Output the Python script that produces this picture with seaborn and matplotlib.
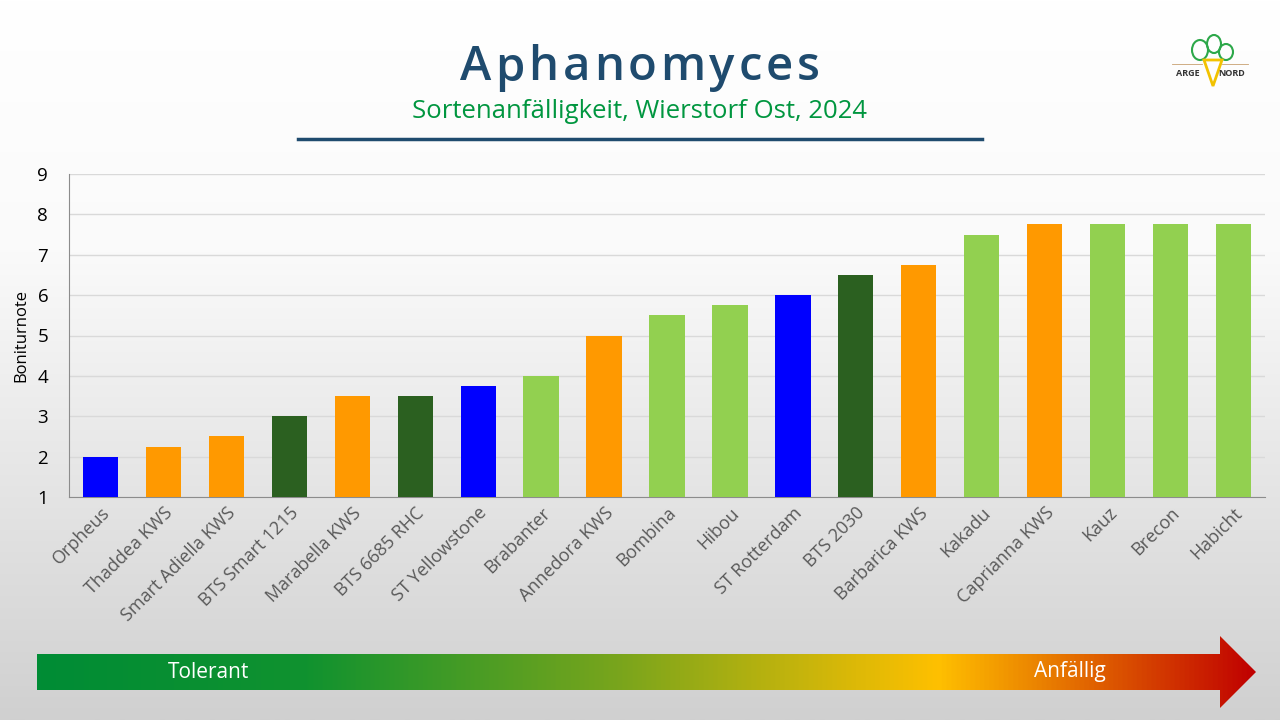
import numpy as np
import pandas as pd
import matplotlib.pyplot as plt
import seaborn as sns
from matplotlib.colors import LinearSegmentedColormap
from matplotlib.patches import Polygon, Ellipse

# data
sorten = ['Orpheus', 'Thaddea KWS', 'Smart Adiella KWS', 'BTS Smart 1215', 'Marabella KWS',
          'BTS 6685 RHC', 'ST Yellowstone', 'Brabanter', 'Annedora KWS', 'Bombina', 'Hibou',
          'ST Rotterdam', 'BTS 2030', 'Barbarica KWS', 'Kakadu', 'Caprianna KWS', 'Kauz',
          'Brecon', 'Habicht']
boniturnote = [2, 2.25, 2.5, 3, 3.5, 3.5, 3.75, 4, 5, 5.5, 5.75, 6, 6.5, 6.75, 7.5, 7.75, 7.75, 7.75, 7.75]
zuechter = ['blau', 'orange', 'orange', 'dunkelgruen', 'orange', 'dunkelgruen', 'blau', 'hellgruen',
            'orange', 'hellgruen', 'hellgruen', 'blau', 'dunkelgruen', 'orange', 'hellgruen',
            'orange', 'hellgruen', 'hellgruen', 'hellgruen']
farben = {'blau': '#0000FF', 'orange': '#FF9900', 'dunkelgruen': '#2B6020', 'hellgruen': '#92D050'}

df = pd.DataFrame({'Sorte': sorten, 'Boniturnote': boniturnote, 'Gruppe': zuechter})

plt.rcParams['font.family'] = ['Open Sans', 'DejaVu Sans']
fig = plt.figure(figsize=(12.8, 7.2), dpi=100)

# background gradient + decorations in pixel coords
bg = fig.add_axes([0, 0, 1, 1], zorder=0)
bg.set_xlim(0, 1280)
bg.set_ylim(720, 0)
bg.axis('off')
grad = np.linspace(0, 1, 256).reshape(-1, 1)
bg_cmap = LinearSegmentedColormap.from_list('bg', [(0, '#FFFFFF'), (0.35, '#FAFAFA'), (1, '#D0D0D0')])
bg.imshow(grad, cmap=bg_cmap, extent=[0, 1280, 720, 0], aspect='auto')

# arrow
arrow_cmap = LinearSegmentedColormap.from_list('arr', [
    (0.0, '#008C35'), (0.22, '#10922F'), (0.48, '#7AA51C'), (0.74, '#FFC000'), (1.0, '#C00000')])
xgrad = np.linspace(0, 1, 512).reshape(1, -1)
img = bg.imshow(xgrad, cmap=arrow_cmap, extent=[37, 1256, 708, 636], aspect='auto')
arrow = Polygon([[37, 654], [1220, 654], [1220, 636], [1256, 672], [1220, 708], [1220, 690], [37, 690]],
                closed=True, facecolor='none', edgecolor='none', transform=bg.transData)
bg.add_patch(arrow)
img.set_clip_path(arrow)
bg.text(209, 672, 'Tolerant', color='white', fontsize=15, ha='center', va='center')
bg.text(1070, 672, 'Anfällig', color='white', fontsize=15, ha='center', va='center')

# title with letter spacing
renderer = fig.canvas.get_renderer()
titel = 'Aphanomyces'
spacing = 3.8
parts = []
for ch in titel:
    t = bg.text(0, 68, ch, color='#1F4B6E', fontsize=34, fontweight='semibold',
                ha='left', va='center')
    w = t.get_window_extent(renderer).width
    parts.append((t, w))
total = sum(w for _, w in parts) + spacing * (len(parts) - 1)
x = 640 - total / 2
for t, w in parts:
    t.set_x(x)
    x += w + spacing

bg.text(640, 112, 'Sortenanfälligkeit, Wierstorf Ost, 2024', color='#00963F', fontsize=18.5,
        ha='center', va='center')
bg.plot([298, 982], [139, 139], color='#1F4B6E', lw=2.5)

# logo
for cx, cy, w, h in [(1200, 50, 16, 20), (1214, 44, 14, 18), (1226, 52, 14, 16)]:
    bg.add_patch(Ellipse((cx, cy), w, h, facecolor='none', edgecolor='#2DA84A', lw=1.5))
bg.add_patch(Polygon([[1204, 60], [1222, 60], [1213, 86]], closed=True,
                     facecolor='none', edgecolor='#F2C200', lw=2))
bg.plot([1172, 1202], [64, 64], color='#C8A070', lw=0.6)
bg.plot([1222, 1248], [64, 64], color='#C8A070', lw=0.6)
bg.text(1188, 74, 'ARGE', fontsize=6.5, fontweight='bold', color='#333333', ha='center', va='center')
bg.text(1232, 74, 'NORD', fontsize=6.5, fontweight='bold', color='#333333', ha='center', va='center')

# bar chart
ax = fig.add_axes([69 / 1280, 1 - 497 / 720, (1265 - 69) / 1280, (497 - 174) / 720], zorder=1)
ax.patch.set_alpha(0)
sns.barplot(data=df, x='Sorte', y='Boniturnote', hue='Gruppe', palette=farben, saturation=1,
            dodge=False, width=0.56, legend=False, ax=ax, zorder=3)
ax.set_ylim(1, 9)
ax.set_yticks(range(1, 10))
ax.set_xlim(-0.5, len(sorten) - 0.5)
ax.grid(axis='y', color='#D9D9D9', lw=1, zorder=0)
ax.set_axisbelow(True)
for s in ['top', 'right']:
    ax.spines[s].set_visible(False)
ax.spines['left'].set_color('#8C8C8C')
ax.spines['bottom'].set_color('#8C8C8C')
ax.tick_params(axis='y', length=0, labelsize=13.5, pad=15, labelcolor='black')
ax.tick_params(axis='x', length=0, labelsize=13, pad=5, labelcolor='#595959')
plt.setp(ax.get_xticklabels(), rotation=45, ha='right', rotation_mode='anchor')
ax.set_xlabel('')
ax.set_ylabel('Boniturnote', fontsize=12, labelpad=6)

fig.savefig('out.png', dpi=100)
